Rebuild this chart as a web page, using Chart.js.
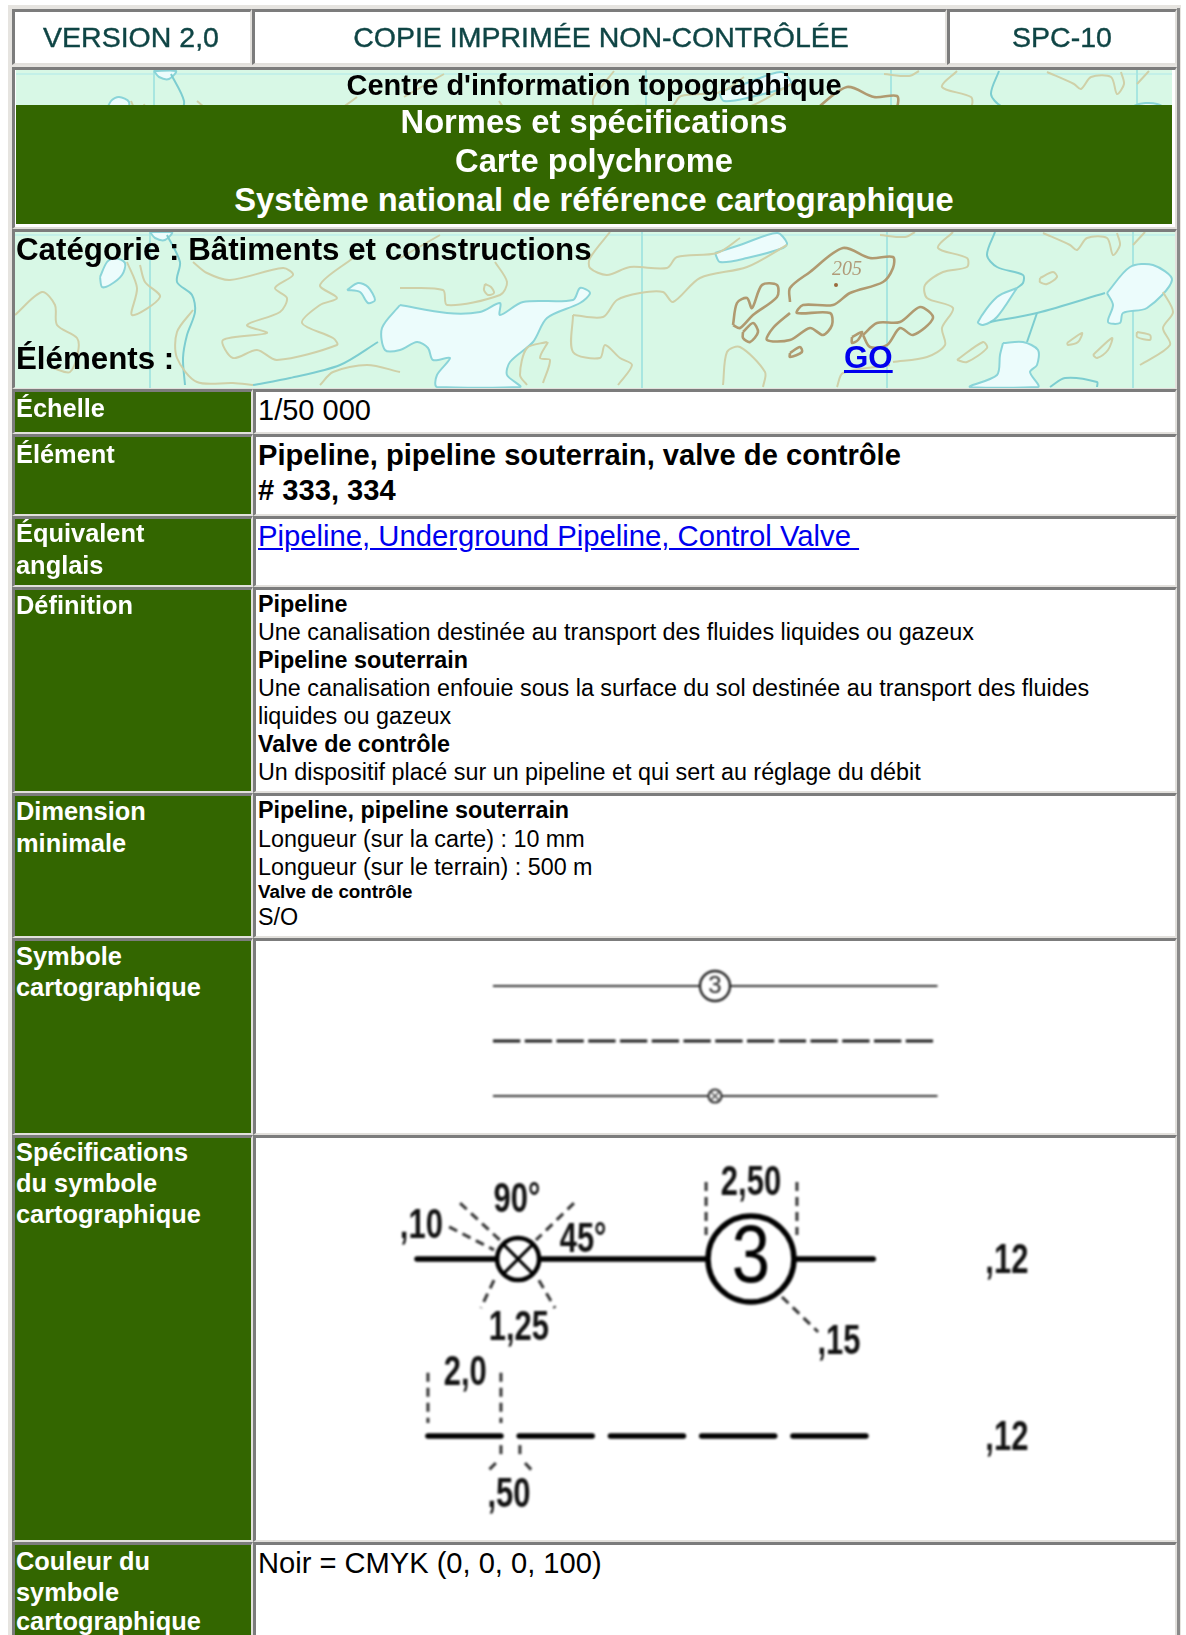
<!DOCTYPE html>
<html lang="fr">
<head>
<meta charset="utf-8">
<title>SPC-10</title>
<script src="https://cdn.jsdelivr.net/npm/chart.js@4"></script>
<style>
  html, body { margin: 0; background: #fff; }
  #page { position: relative; width: 1186px; height: 1635px; overflow: hidden; font-family: "Liberation Sans", Arial, sans-serif; }
  .box, .t, canvas { position: absolute; box-sizing: border-box; }
  .box { border-top: 3px solid #7c7c7c; border-left: 3px solid #7c7c7c; border-bottom: 2px solid #e2e0dc; border-right: 2px solid #e2e0dc; background: #fff; }
  .t { white-space: nowrap; color: #000; line-height: 1; z-index: 5; }
  a { color: #0000ee; }
</style>
</head>
<body>
<div id="page"></div>
<script>
// values

// map: easting / northing of the background sheet
const mapGrid = [150, 642, 887, 1133];
const mapTan = [
  [[127,262],[137,288],[132,315],[160,297],[145,282],[140,265]],
  [[15,315],[42,292],[55,305],[57,325],[77,338],[78,352],[70,372],[53,368]],
  [[193,262],[207,273],[230,280],[283,268],[293,275],[275,288],[287,298],[280,312],[247,325],[267,333],[223,340],[233,358],[257,350],[277,360],[337,345],[333,338],[302,323],[320,305],[337,298],[320,285],[353,258]],
  [[193,310],[177,332],[177,358],[197,382],[233,383],[253,385]],
  [[320,385],[333,372],[367,365],[400,372]],
  [[440,235],[400,258]],
  [[495,262],[507,282],[500,295],[447,305],[443,290],[400,288]],
  [[610,232],[590,258],[590,268],[607,275],[630,267],[667,268],[677,257],[717,253],[740,238]],
  [[573,315],[573,352],[600,358],[605,345],[620,358],[632,365],[618,385]],
  [[573,315],[603,317],[617,300],[640,293],[663,292],[673,302],[700,278],[747,267],[787,245]],
  [[485,284],[491,287],[494,293],[488,295],[484,290],[485,284]],
  [[547,342],[527,348],[520,375],[527,385]],
  [[548,342],[540,358],[550,360],[543,383]],
  [[723,385],[727,352],[740,347],[765,372],[763,387]],
  [[953,232],[938,248],[967,258],[967,267],[943,272],[925,285],[927,298],[953,308],[942,328],[945,345],[927,357],[893,362]],
  [[1043,233],[1070,245],[1077,250],[1087,238],[1107,238],[1113,255],[1120,245],[1117,233]],
  [[1040,278],[1053,272],[1057,277],[1047,284],[1040,282],[1040,278]],
  [[957,360],[983,342],[987,348],[967,362],[957,360]],
  [[1093,355],[1112,338],[1108,350],[1097,358],[1093,355]],
  [[1067,343],[1082,333],[1078,342],[1068,345],[1067,343]],
  [[1137,332],[1150,335],[1150,340],[1137,337],[1137,332]],
  [[1140,365],[1170,345],[1163,328],[1173,312],[1163,292]],
  [[837,387],[843,373],[890,365]],
  [[915,232],[905,237],[880,235]],
  [[1133,245],[1145,232]]
];
const mapBrown = [
  [[733,325],[737,303],[747,298],[752,308],[762,285],[777,285],[777,297],[753,315],[740,328],[733,325]],
  [[743,332],[753,323],[758,332],[750,342],[743,338],[743,332]],
  [[790,302],[790,288],[810,272],[843,248],[870,258],[893,257],[893,268],[883,282],[850,293],[833,305],[803,305],[797,313],[830,313],[832,325],[823,335],[810,328],[790,340],[767,340],[773,328],[790,313]],
  [[863,335],[877,323],[900,322],[920,307],[933,318],[913,335],[900,328],[887,345],[870,347],[863,335]],
  [[790,353],[800,347],[802,352],[790,357],[790,353]],
  [[852,337],[862,332],[858,340],[852,343],[852,337]]
];
const mapRivers = [
  [[167,235],[180,262],[177,282],[192,295],[195,312],[187,335],[183,358],[185,385]],
  [[253,385],[290,378],[340,365],[378,342]],
  [[995,232],[987,255],[997,267],[1023,275],[1023,283],[1017,288]],
  [[990,322],[1037,313],[1105,293]],
  [[1037,313],[1027,342]],
  [[1050,387],[1065,378],[1097,382],[1097,387]]
];
const mapLakes = [
  [[150,232],[172,232],[165,240],[155,238],[150,232]],
  [[100,277],[107,262],[115,258],[125,263],[122,275],[110,285],[102,287],[100,277]],
  [[347,290],[358,283],[368,287],[375,300],[368,303],[360,292],[347,290]],
  [[400,305],[447,313],[480,312],[500,303],[500,315],[523,302],[573,300],[580,288],[590,293],[580,303],[547,318],[533,342],[510,362],[507,375],[520,387],[437,387],[437,375],[450,358],[433,360],[428,348],[417,342],[400,350],[385,350],[382,328],[400,305]],
  [[1017,288],[997,317],[983,325],[978,322],[997,297],[1017,288]],
  [[1107,293],[1130,267],[1153,265],[1172,280],[1147,308],[1123,313],[1120,323],[1108,322],[1113,305],[1107,293]],
  [[1003,343],[1023,342],[1038,350],[1037,365],[1030,372],[1038,387],[970,387],[997,375],[1000,355],[1003,343]],
  [[715,253],[740,245],[777,233],[787,243],[783,248],[747,258],[720,262],[715,253]]
];
const mapSpot = [[836,285]];
const mapSpotLabel = ["205", 847, 270];

// symbol as printed (mm on the sheet)
const symLineEnd = 35;
const symMarkerX = 17.48;
const symRows = [0, -4.33, -8.66];
const symDashStarts = [0, 2.5, 5, 7.5, 10, 12.5, 15, 17.5, 20, 22.5, 25, 27.5, 30, 32.5];
const symDashLen = 2.15;

// specification drawing (mm, enlarged)
const specPipeEnd = 12.5;
const specValveX = 2.77;
const specCircleX = 9.15;
const specDashY = -4.85;
const specDashStarts = [0.3, 2.8, 5.3, 7.8, 10.3];
const specDashLen = 2.0;
const specLeaders = [
  [0.88, 0.88, 2.11, 0.25],
  [1.18, 1.53, 2.27, 0.52],
  [4.30, 1.53, 3.26, 0.52],
  [2.11, -0.58, 1.75, -1.34],
  [3.34, -0.58, 3.78, -1.34],
  [7.92, 2.11, 7.92, 0.66],
  [10.41, 2.11, 10.41, 0.66],
  [10.0, -1.04, 10.99, -2.0],
  [0.30, -3.12, 0.30, -4.49],
  [2.30, -3.12, 2.30, -4.49],
  [2.30, -5.10, 2.30, -5.42],
  [2.82, -5.10, 2.82, -5.42],
  [2.16, -5.59, 1.89, -5.86],
  [2.96, -5.59, 3.21, -5.86]
];
const specLabels = [
  [",10", 0.12, 0.89], ["90°", 2.74, 1.60], ["45°", 4.55, 0.51],
  ["2,50", 9.15, 2.08], ["1,25", 2.79, -1.90], [",15", 11.56, -2.27],
  [",12", 16.16, -0.06], ["2,0", 1.32, -3.14], [",50", 2.52, -6.48],
  [",12", 16.16, -4.90]
];

// page cells
const cells = [
  [12,9,240,56], [252,9,695,56], [947,9,230,56],
  [12,67,1165,162],
  [12,229,1165,160],
  [12,389,241,45], [253,389,924,45],
  [12,434,241,82], [253,434,924,82],
  [12,516,241,71], [253,516,924,71],
  [12,587,241,206], [253,587,924,206],
  [12,793,241,145], [253,793,924,145],
  [12,938,241,197], [253,938,924,197],
  [12,1135,241,407], [253,1135,924,407],
  [12,1542,241,100], [253,1542,924,100]
];
const greenCells = [5,7,9,11,13,15,17,19];

const page = document.getElementById("page");

function addDiv(cls, css, html) {
  const d = document.createElement("div");
  d.className = cls;
  d.style.cssText = css;
  if (html) d.innerHTML = html;
  page.appendChild(d);
  return d;
}
addDiv("box", "left:8px;top:5px;width:1173px;height:1640px;background:#e6e4e0;border:0;");
addDiv("box", "left:1177px;top:8px;width:3px;height:1640px;background:#8a8a8a;border:0;");
cells.forEach((c, i) => {
  const bg = greenCells.includes(i) ? "background:#336600;" : "";
  addDiv("box", `left:${c[0]}px;top:${c[1]}px;width:${c[2]}px;height:${c[3]}px;${bg}`);
});
addDiv("box", "left:16px;top:105px;width:1156px;height:119px;background:#336600;border:0;z-index:3;");

// text: [text, x, y centre, size, weight, colour, align]
const texts = [
  ["VERSION 2,0", 131, 37, 28.5, 400, "#0f4545", "c"],
  ["COPIE IMPRIMÉE NON-CONTRÔLÉE", 601, 37, 28.5, 400, "#0f4545", "c"],
  ["SPC-10", 1062, 37, 28.5, 400, "#0f4545", "c"],
  ["Centre d'information topographique", 594, 85, 29, 700, "#000", "c"],
  ["Normes et spécifications", 594, 122, 32.7, 700, "#fff", "c"],
  ["Carte polychrome", 594, 161, 32.7, 700, "#fff", "c"],
  ["Système national de référence cartographique", 594, 200, 32.7, 700, "#fff", "c"],
  ["Catégorie : Bâtiments et constructions", 16, 250, 31.3, 700, "#000"],
  ["Éléments :", 16, 359, 31.3, 700, "#000"],
  ["<a href='#'>GO</a>", 844, 358, 31.3, 700, "#00e"],
  ["Échelle", 16, 409, 25.4, 700, "#fff"],
  ["Élément", 16, 455, 25.4, 700, "#fff"],
  ["Équivalent", 16, 534, 25.4, 700, "#fff"],
  ["anglais", 16, 566, 25.4, 700, "#fff"],
  ["Définition", 16, 606, 25.4, 700, "#fff"],
  ["Dimension", 16, 812, 25.4, 700, "#fff"],
  ["minimale", 16, 844, 25.4, 700, "#fff"],
  ["Symbole", 16, 957, 25.4, 700, "#fff"],
  ["cartographique", 16, 988, 25.4, 700, "#fff"],
  ["Spécifications", 16, 1153, 25.4, 700, "#fff"],
  ["du symbole", 16, 1184, 25.4, 700, "#fff"],
  ["cartographique", 16, 1215, 25.4, 700, "#fff"],
  ["Couleur du", 16, 1562, 25.4, 700, "#fff"],
  ["symbole", 16, 1593, 25.4, 700, "#fff"],
  ["cartographique", 16, 1622, 25.4, 700, "#fff"],
  ["1/50 000", 258, 410, 29, 400, "#000"],
  ["Pipeline, pipeline souterrain, valve de contrôle", 258, 456, 29.15, 700, "#000"],
  ["# 333, 334", 258, 491, 29.15, 700, "#000"],
  ["<a href='#'>Pipeline, Underground Pipeline, Control Valve&nbsp;</a>", 258, 537, 29.25, 400, "#00e"],
  ["Pipeline", 258, 605, 23.33, 700, "#000"],
  ["Une canalisation destinée au transport des fluides liquides ou gazeux", 258, 633, 23.33, 400, "#000"],
  ["Pipeline souterrain", 258, 661, 23.33, 700, "#000"],
  ["Une canalisation enfouie sous la surface du sol destinée au transport des fluides", 258, 689, 23.33, 400, "#000"],
  ["liquides ou gazeux", 258, 717, 23.33, 400, "#000"],
  ["Valve de contrôle", 258, 745, 23.33, 700, "#000"],
  ["Un dispositif placé sur un pipeline et qui sert au réglage du débit", 258, 773, 23.33, 400, "#000"],
  ["Pipeline, pipeline souterrain", 258, 811, 23.33, 700, "#000"],
  ["Longueur (sur la carte) : 10 mm", 258, 840, 23.33, 400, "#000"],
  ["Longueur (sur le terrain) : 500 m", 258, 868, 23.33, 400, "#000"],
  ["Valve de contrôle", 258, 892, 18.8, 700, "#000"],
  ["S/O", 258, 918, 23.33, 400, "#000"],
  ["Noir = CMYK (0, 0, 0, 100)", 258, 1564, 29.1, 400, "#000"]
];
texts.forEach(t => {
  const shift = t[6] === "c" ? "transform:translateX(-50%);" : "";
  const head = t[2] === 37 ? "-webkit-text-stroke:0.4px #0f4545;filter:blur(0.4px);" : "";
  addDiv("t", `left:${t[1]}px;top:${t[2] - t[3] / 2}px;font-size:${t[3]}px;font-weight:${t[4]};color:${t[5]};${shift}${head}`, t[0]);
});

function addCanvas(left, top, w, h, extra) {
  const c = document.createElement("canvas");
  c.width = w;
  c.height = h;
  c.style.cssText = `left:${left}px;top:${top}px;width:${w}px;height:${h}px;z-index:2;${extra || ""}`;
  page.appendChild(c);
  return c.getContext("2d");
}

function pts(list) {
  return list.map(p => ({ x: p[0], y: p[1] }));
}

function line(data, color, width, extra) {
  return Object.assign({
    data: data, showLine: true, borderColor: color, borderWidth: width,
    pointRadius: 0, fill: false
  }, extra || {});
}

function baseOptions(xMin, xMax, yMin, yMax, reverse) {
  return {
    responsive: false,
    animation: false,
    events: [],
    layout: { padding: 0, autoPadding: false },
    plugins: { legend: { display: false }, tooltip: { enabled: false } },
    scales: {
      x: { type: "linear", display: false, min: xMin, max: xMax },
      y: { type: "linear", display: false, min: yMin, max: yMax, reverse: !!reverse }
    }
  };
}

function labelPlugin(labels, font, sx, color) {
  return {
    id: "labels",
    afterDatasetsDraw(chart) {
      const ctx = chart.ctx;
      ctx.save();
      ctx.fillStyle = color;
      ctx.font = font;
      ctx.textAlign = "center";
      ctx.textBaseline = "middle";
      labels.forEach(l => {
        ctx.save();
        ctx.translate(chart.scales.x.getPixelForValue(l[1]), chart.scales.y.getPixelForValue(l[2]));
        ctx.scale(sx, 1);
        ctx.fillText(l[0], 0, 0);
        ctx.restore();
      });
      ctx.restore();
    }
  };
}

function mapChart(ctx, xMin, xMax, yMin, yMax, labels) {
  const sets = [];
  mapLakes.forEach(l => sets.push(line(pts(l), "#8ad4d8", 2, { fill: "shape", backgroundColor: "#ecfcfc", tension: 0.3, order: 3 })));
  mapGrid.forEach(x => sets.push(line(pts([[x, 200], [x, 400]]), "#a8e6e0", 2, { order: 4 })));
  sets.push(line(pts([[0, 235], [1200, 235]]), "#bceee8", 1.5, { order: 4 }));
  mapTan.forEach(l => sets.push(line(pts(l), "#cfd0a8", 2, { tension: 0.3, order: 2 })));
  mapRivers.forEach(l => sets.push(line(pts(l), "#7ccdd0", 2, { tension: 0.3, order: 2 })));
  mapBrown.forEach(l => sets.push(line(pts(l), "#b09a70", 2.6, { tension: 0.3, order: 1 })));
  sets.push({ data: pts(mapSpot), pointRadius: 2, pointBackgroundColor: "#9a6a3c", pointBorderWidth: 0, order: 0 });
  return new Chart(ctx, {
    type: "scatter",
    data: { datasets: sets },
    options: baseOptions(xMin, xMax, yMin, yMax, true),
    plugins: [labelPlugin(labels, "italic 20px 'Liberation Serif'", 1, "#b09a78")]
  });
}

const mapMint = "background:#d8f8e6;filter:blur(0.7px);";
mapChart(addCanvas(16, 70, 1156, 35, mapMint), 12, 1168, 231, 266, []);
mapChart(addCanvas(15, 232, 1160, 156, mapMint), 15, 1175, 232, 388, [mapSpotLabel]);

// printed symbol
const symSets = [];
symSets.push(line(pts([[0, symRows[0]], [symLineEnd, symRows[0]]]), "#333", 2.2, { order: 3 }));
symSets.push(line(pts([[0, symRows[2]], [symLineEnd, symRows[2]]]), "#333", 2.2, { order: 3 }));
symDashStarts.forEach(s => {
  symSets.push(line(pts([[s, symRows[1]], [s + symDashLen, symRows[1]]]), "#1c1c1c", 3, { order: 3 }));
});
symSets.push({ data: pts([[symMarkerX, symRows[0]]]), pointRadius: 15, pointBackgroundColor: "#fff", pointBorderColor: "#222", pointBorderWidth: 2.4, order: 2 });
symSets.push({ data: pts([[symMarkerX, symRows[2]]]), pointRadius: 6.5, pointBackgroundColor: "#fff", pointBorderColor: "#333", pointBorderWidth: 2.2, order: 2 });
symSets.push({ data: pts([[symMarkerX, symRows[2]]]), pointStyle: "crossRot", pointRadius: 6.5, pointBorderColor: "#555", pointBorderWidth: 1.5, order: 1 });
new Chart(addCanvas(256, 941, 920, 192, "filter:blur(0.8px);"), {
  type: "scatter",
  data: { datasets: symSets },
  options: baseOptions(-18.66, 53.78, -11.57, 3.54),
  plugins: [labelPlugin([["3", symMarkerX, symRows[0]]], "24px 'Liberation Sans'", 1, "#222")]
});

// specification drawing
const specSets = [];
specSets.push(line(pts([[0, 0], [specPipeEnd, 0]]), "#000", 5.5, { borderCapStyle: "round", order: 3 }));
specDashStarts.forEach(s => {
  specSets.push(line(pts([[s, specDashY], [s + specDashLen, specDashY]]), "#000", 5.5, { borderCapStyle: "round", order: 3 }));
});
specLeaders.forEach(l => {
  specSets.push(line(pts([[l[0], l[1]], [l[2], l[3]]]), "#333", 3, { borderDash: [9, 6], order: 4 }));
});
specSets.push({ data: pts([[specValveX, 0]]), pointRadius: 21, pointBackgroundColor: "#fff", pointBorderColor: "#000", pointBorderWidth: 4.5, order: 2 });
specSets.push({ data: pts([[specValveX, 0]]), pointStyle: "crossRot", pointRadius: 21, pointBorderColor: "#000", pointBorderWidth: 3, order: 1 });
specSets.push({ data: pts([[specCircleX, 0]]), pointRadius: 43, pointBackgroundColor: "#fff", pointBorderColor: "#000", pointBorderWidth: 5.5, order: 2 });
new Chart(addCanvas(256, 1141, 920, 399, "filter:blur(0.8px);"), {
  type: "scatter",
  data: { datasets: specSets },
  options: baseOptions(-4.411, 20.795, -7.699, 3.233),
  plugins: [
    labelPlugin(specLabels, "bold 43px 'Liberation Sans'", 0.72, "#111"),
    labelPlugin([["3", specCircleX, 0]], "82px 'Liberation Sans'", 0.84, "#000")
  ]
});
</script>
</body>
</html>
